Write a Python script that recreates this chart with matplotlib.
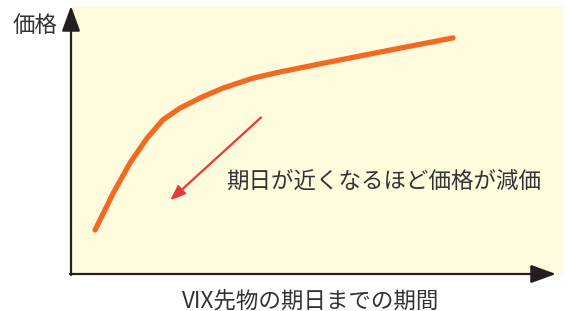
import numpy as np
import matplotlib.pyplot as plt
from matplotlib.patches import FancyArrowPatch

plt.rcParams['font.family'] = ['Noto Sans CJK JP', 'DejaVu Sans']

# time to expiry (arbitrary units) vs futures price (arbitrary units)
period = [4.7, 8.4, 11.8, 15.3, 18.5, 22.0, 26.1, 30.8, 36.9, 42.4, 50.5, 62.7, 77.6]
price = [16.4, 30.2, 41.4, 50.7, 57.5, 61.9, 65.7, 69.4, 73.1, 75.4, 78.4, 82.8, 88.1]

y_label = "価格"
x_label = "VIX先物の期日までの期間"
note = "期日が近くなるほど価格が減価"

W, H = 571, 311
fig = plt.figure(figsize=(W / 100, H / 100), dpi=100)

# panel in pixel terms
left, right, top, bottom = 72, 563, 6, 274
ax = fig.add_axes([left / W, 1 - bottom / H, (right - left) / W, (bottom - top) / H])
ax.set_facecolor('#fffbdd')
ax.set_xlim(0, 100)
ax.set_ylim(0, 100)
for s in ax.spines.values():
    s.set_visible(False)
ax.set_xticks([])
ax.set_yticks([])

ax.plot(period, price, color='#f26a21', lw=3.8, solid_capstyle='round',
        solid_joinstyle='round')

# red arrow
ax.annotate('', xy=(20.0, 27.5), xytext=(38.5, 58.4),
            arrowprops=dict(arrowstyle='-|>,head_length=0.9,head_width=0.35',
                            color='#e8383d', lw=1.6, shrinkA=0, shrinkB=0))
ax.text(31.3, 34.5, note, fontsize=16.2, color='#333333', va='center', ha='left')


def px(x, y):
    return (x / W, 1 - y / H)


# axis arrows
axis_kw = dict(arrowstyle='-|>,head_length=1.1,head_width=0.4', color='#231f20',
               lw=1.6, shrinkA=0, shrinkB=0)
fig.add_artist(FancyArrowPatch(px(71, 275), px(71, 6), transform=fig.transFigure,
                               mutation_scale=14, **axis_kw))
fig.add_artist(FancyArrowPatch(px(70, 274), px(556, 274), transform=fig.transFigure,
                               mutation_scale=14, **axis_kw))

fig.text(*px(35, 25), y_label, fontsize=16.2, color='#333333', ha='center', va='center')
fig.text(*px(311, 301), x_label, fontsize=16.2, color='#333333', ha='center', va='center')

fig.savefig('out.png', dpi=100)
